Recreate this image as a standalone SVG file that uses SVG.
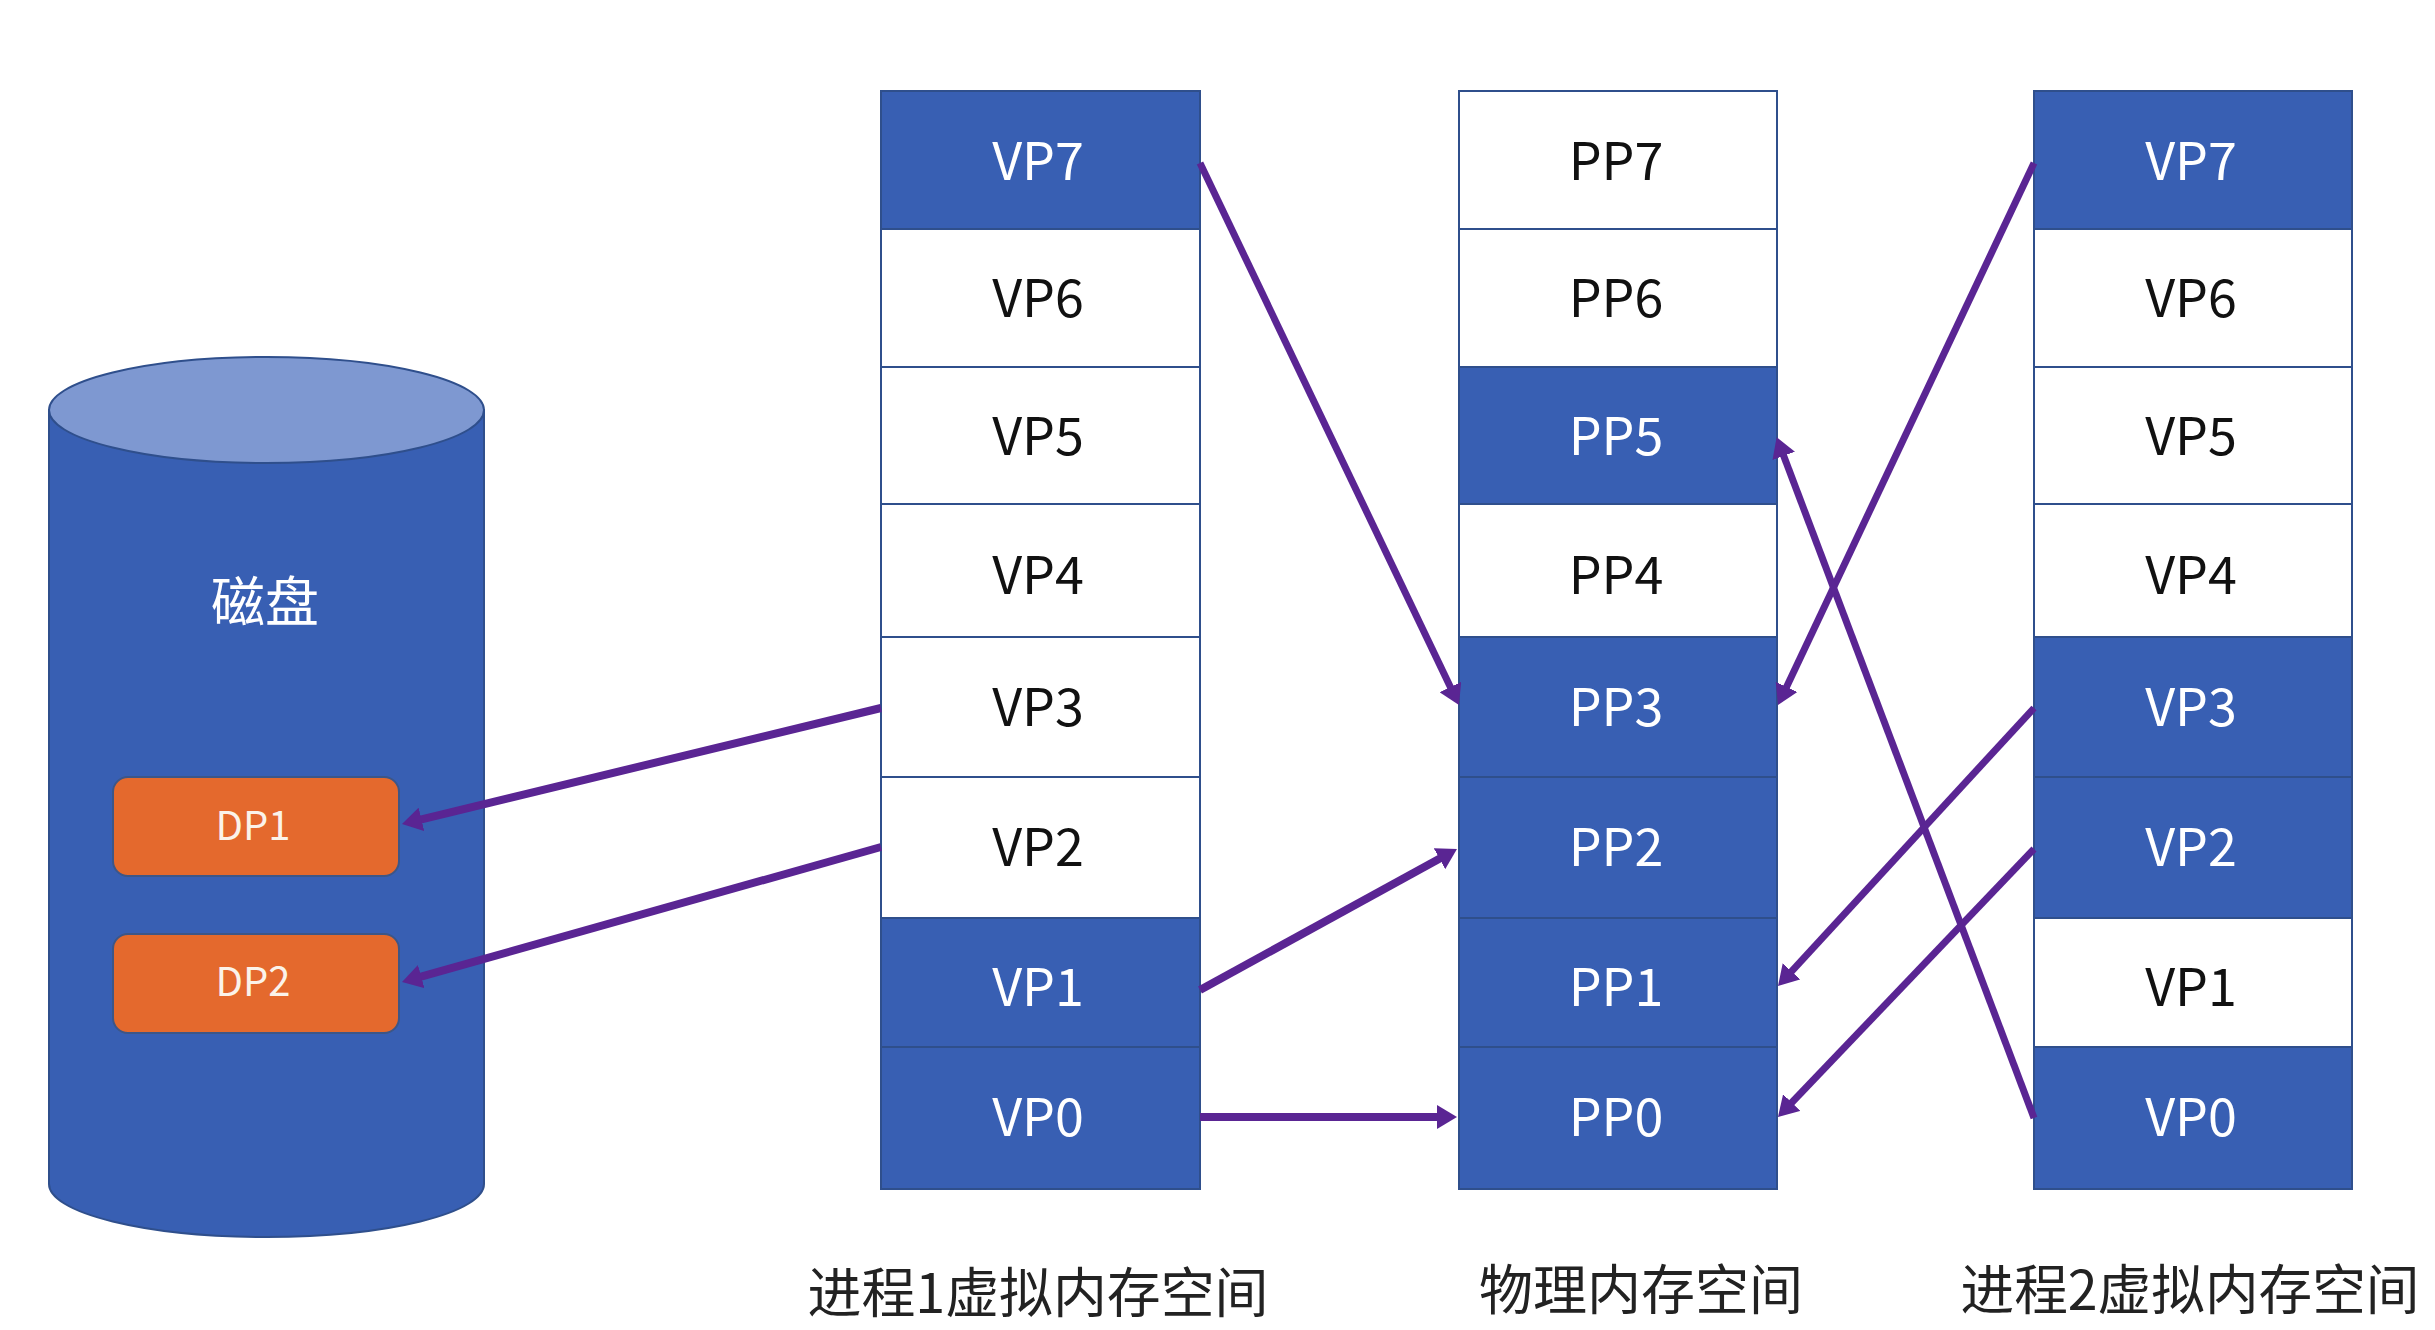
<svg xmlns="http://www.w3.org/2000/svg" width="2435" height="1330" viewBox="0 0 2435 1330">
<defs>
<style>
text{font-family:"Noto Sans CJK SC","Liberation Sans",sans-serif;text-anchor:middle}
.b{fill:#385fb3;stroke:#2f4f8c;stroke-width:2}
.w{fill:#fff;stroke:#2f4f8c;stroke-width:2}
.tb{font-size:52px;fill:#fff}
.tw{font-size:52px;fill:#111}
.o{fill:#e4692d;stroke:#3d5687;stroke-width:2}
.dp{font-size:40px;fill:#fbf3ea}
.lab{font-size:54px;fill:#222}
.c{fill:none;stroke:#5a2593;stroke-width:7;marker-end:url(#ah)}
.c2{stroke-width:8}
</style>
<marker id="ah" markerUnits="userSpaceOnUse" viewBox="0 0 20 24" markerWidth="20" markerHeight="24" refX="2" refY="12" orient="auto"><path d="M0,0L20,12L0,24z" fill="#5a2593"/></marker>
</defs>
<rect width="2435" height="1330" fill="#fff"/>
<g id="disk">
<path class="b" d="M49,410V1184A217.5,53 0 0 0 484,1184V410z"/>
<ellipse cx="266.5" cy="410" rx="217.5" ry="53" fill="#7e98d1" stroke="#2f4f8c" stroke-width="2"/>
<text x="265" y="622" font-size="54" fill="#fff">磁盘</text>
</g>
<g id="dp1"><rect class="o" x="113" y="777" width="286" height="99" rx="15"/><text class="dp" x="253" y="840">DP1</text></g>
<g id="dp2"><rect class="o" x="113" y="934" width="286" height="99" rx="15"/><text class="dp" x="253" y="996">DP2</text></g>

<g id="p1-vp7"><rect class="b" x="881" y="91" width="319" height="138"/><text class="tb" x="1038" y="180">VP7</text></g>
<g id="p1-vp6"><rect class="w" x="881" y="229" width="319" height="138"/><text class="tw" x="1038" y="317">VP6</text></g>
<g id="p1-vp5"><rect class="w" x="881" y="367" width="319" height="137"/><text class="tw" x="1038" y="455">VP5</text></g>
<g id="p1-vp4"><rect class="w" x="881" y="504" width="319" height="133"/><text class="tw" x="1038" y="594">VP4</text></g>
<g id="p1-vp3"><rect class="w" x="881" y="637" width="319" height="140"/><text class="tw" x="1038" y="726">VP3</text></g>
<g id="p1-vp2"><rect class="w" x="881" y="777" width="319" height="141"/><text class="tw" x="1038" y="866">VP2</text></g>
<g id="p1-vp1"><rect class="b" x="881" y="918" width="319" height="129"/><text class="tb" x="1038" y="1006">VP1</text></g>
<g id="p1-vp0"><rect class="b" x="881" y="1047" width="319" height="142"/><text class="tb" x="1038" y="1136">VP0</text></g>

<g id="pp7"><rect class="w" x="1459" y="91" width="318" height="138"/><text class="tw" x="1616" y="180">PP7</text></g>
<g id="pp6"><rect class="w" x="1459" y="229" width="318" height="138"/><text class="tw" x="1616" y="317">PP6</text></g>
<g id="pp5"><rect class="b" x="1459" y="367" width="318" height="137"/><text class="tb" x="1616" y="455">PP5</text></g>
<g id="pp4"><rect class="w" x="1459" y="504" width="318" height="133"/><text class="tw" x="1616" y="594">PP4</text></g>
<g id="pp3"><rect class="b" x="1459" y="637" width="318" height="140"/><text class="tb" x="1616" y="726">PP3</text></g>
<g id="pp2"><rect class="b" x="1459" y="777" width="318" height="141"/><text class="tb" x="1616" y="866">PP2</text></g>
<g id="pp1"><rect class="b" x="1459" y="918" width="318" height="129"/><text class="tb" x="1616" y="1006">PP1</text></g>
<g id="pp0"><rect class="b" x="1459" y="1047" width="318" height="142"/><text class="tb" x="1616" y="1136">PP0</text></g>

<g id="p2-vp7"><rect class="b" x="2034" y="91" width="318" height="138"/><text class="tb" x="2191" y="180">VP7</text></g>
<g id="p2-vp6"><rect class="w" x="2034" y="229" width="318" height="138"/><text class="tw" x="2191" y="317">VP6</text></g>
<g id="p2-vp5"><rect class="w" x="2034" y="367" width="318" height="137"/><text class="tw" x="2191" y="455">VP5</text></g>
<g id="p2-vp4"><rect class="w" x="2034" y="504" width="318" height="133"/><text class="tw" x="2191" y="594">VP4</text></g>
<g id="p2-vp3"><rect class="b" x="2034" y="637" width="318" height="140"/><text class="tb" x="2191" y="726">VP3</text></g>
<g id="p2-vp2"><rect class="b" x="2034" y="777" width="318" height="141"/><text class="tb" x="2191" y="866">VP2</text></g>
<g id="p2-vp1"><rect class="w" x="2034" y="918" width="318" height="129"/><text class="tw" x="2191" y="1006">VP1</text></g>
<g id="p2-vp0"><rect class="b" x="2034" y="1047" width="318" height="142"/><text class="tb" x="2191" y="1136">VP0</text></g>

<g id="connectors">
<path class="c" d="M1200,163L1451.2,688.8"/>
<path class="c" d="M2034,163L1785.7,688.7"/>
<path class="c" d="M2034,1118L1783,454"/>
<path class="c" d="M2034,708L1790.2,972.8"/>
<path class="c" d="M2034,849L1790.4,1104"/>
<path class="c c2" d="M1200,990L1441.2,857.7"/>
<path class="c c2" d="M1200,1117L1439,1117"/>
<path class="c c2" d="M881,708L419.5,819.8"/>
<path class="c c2" d="M881,847L419.3,977.1"/>
</g>
<g id="labels">
<text class="lab" x="1038" y="1313" textLength="461" lengthAdjust="spacingAndGlyphs">进程1虚拟内存空间</text>
<text class="lab" x="1641" y="1310">物理内存空间</text>
<text class="lab" x="2190" y="1310" textLength="459" lengthAdjust="spacingAndGlyphs">进程2虚拟内存空间</text>
</g>
</svg>
